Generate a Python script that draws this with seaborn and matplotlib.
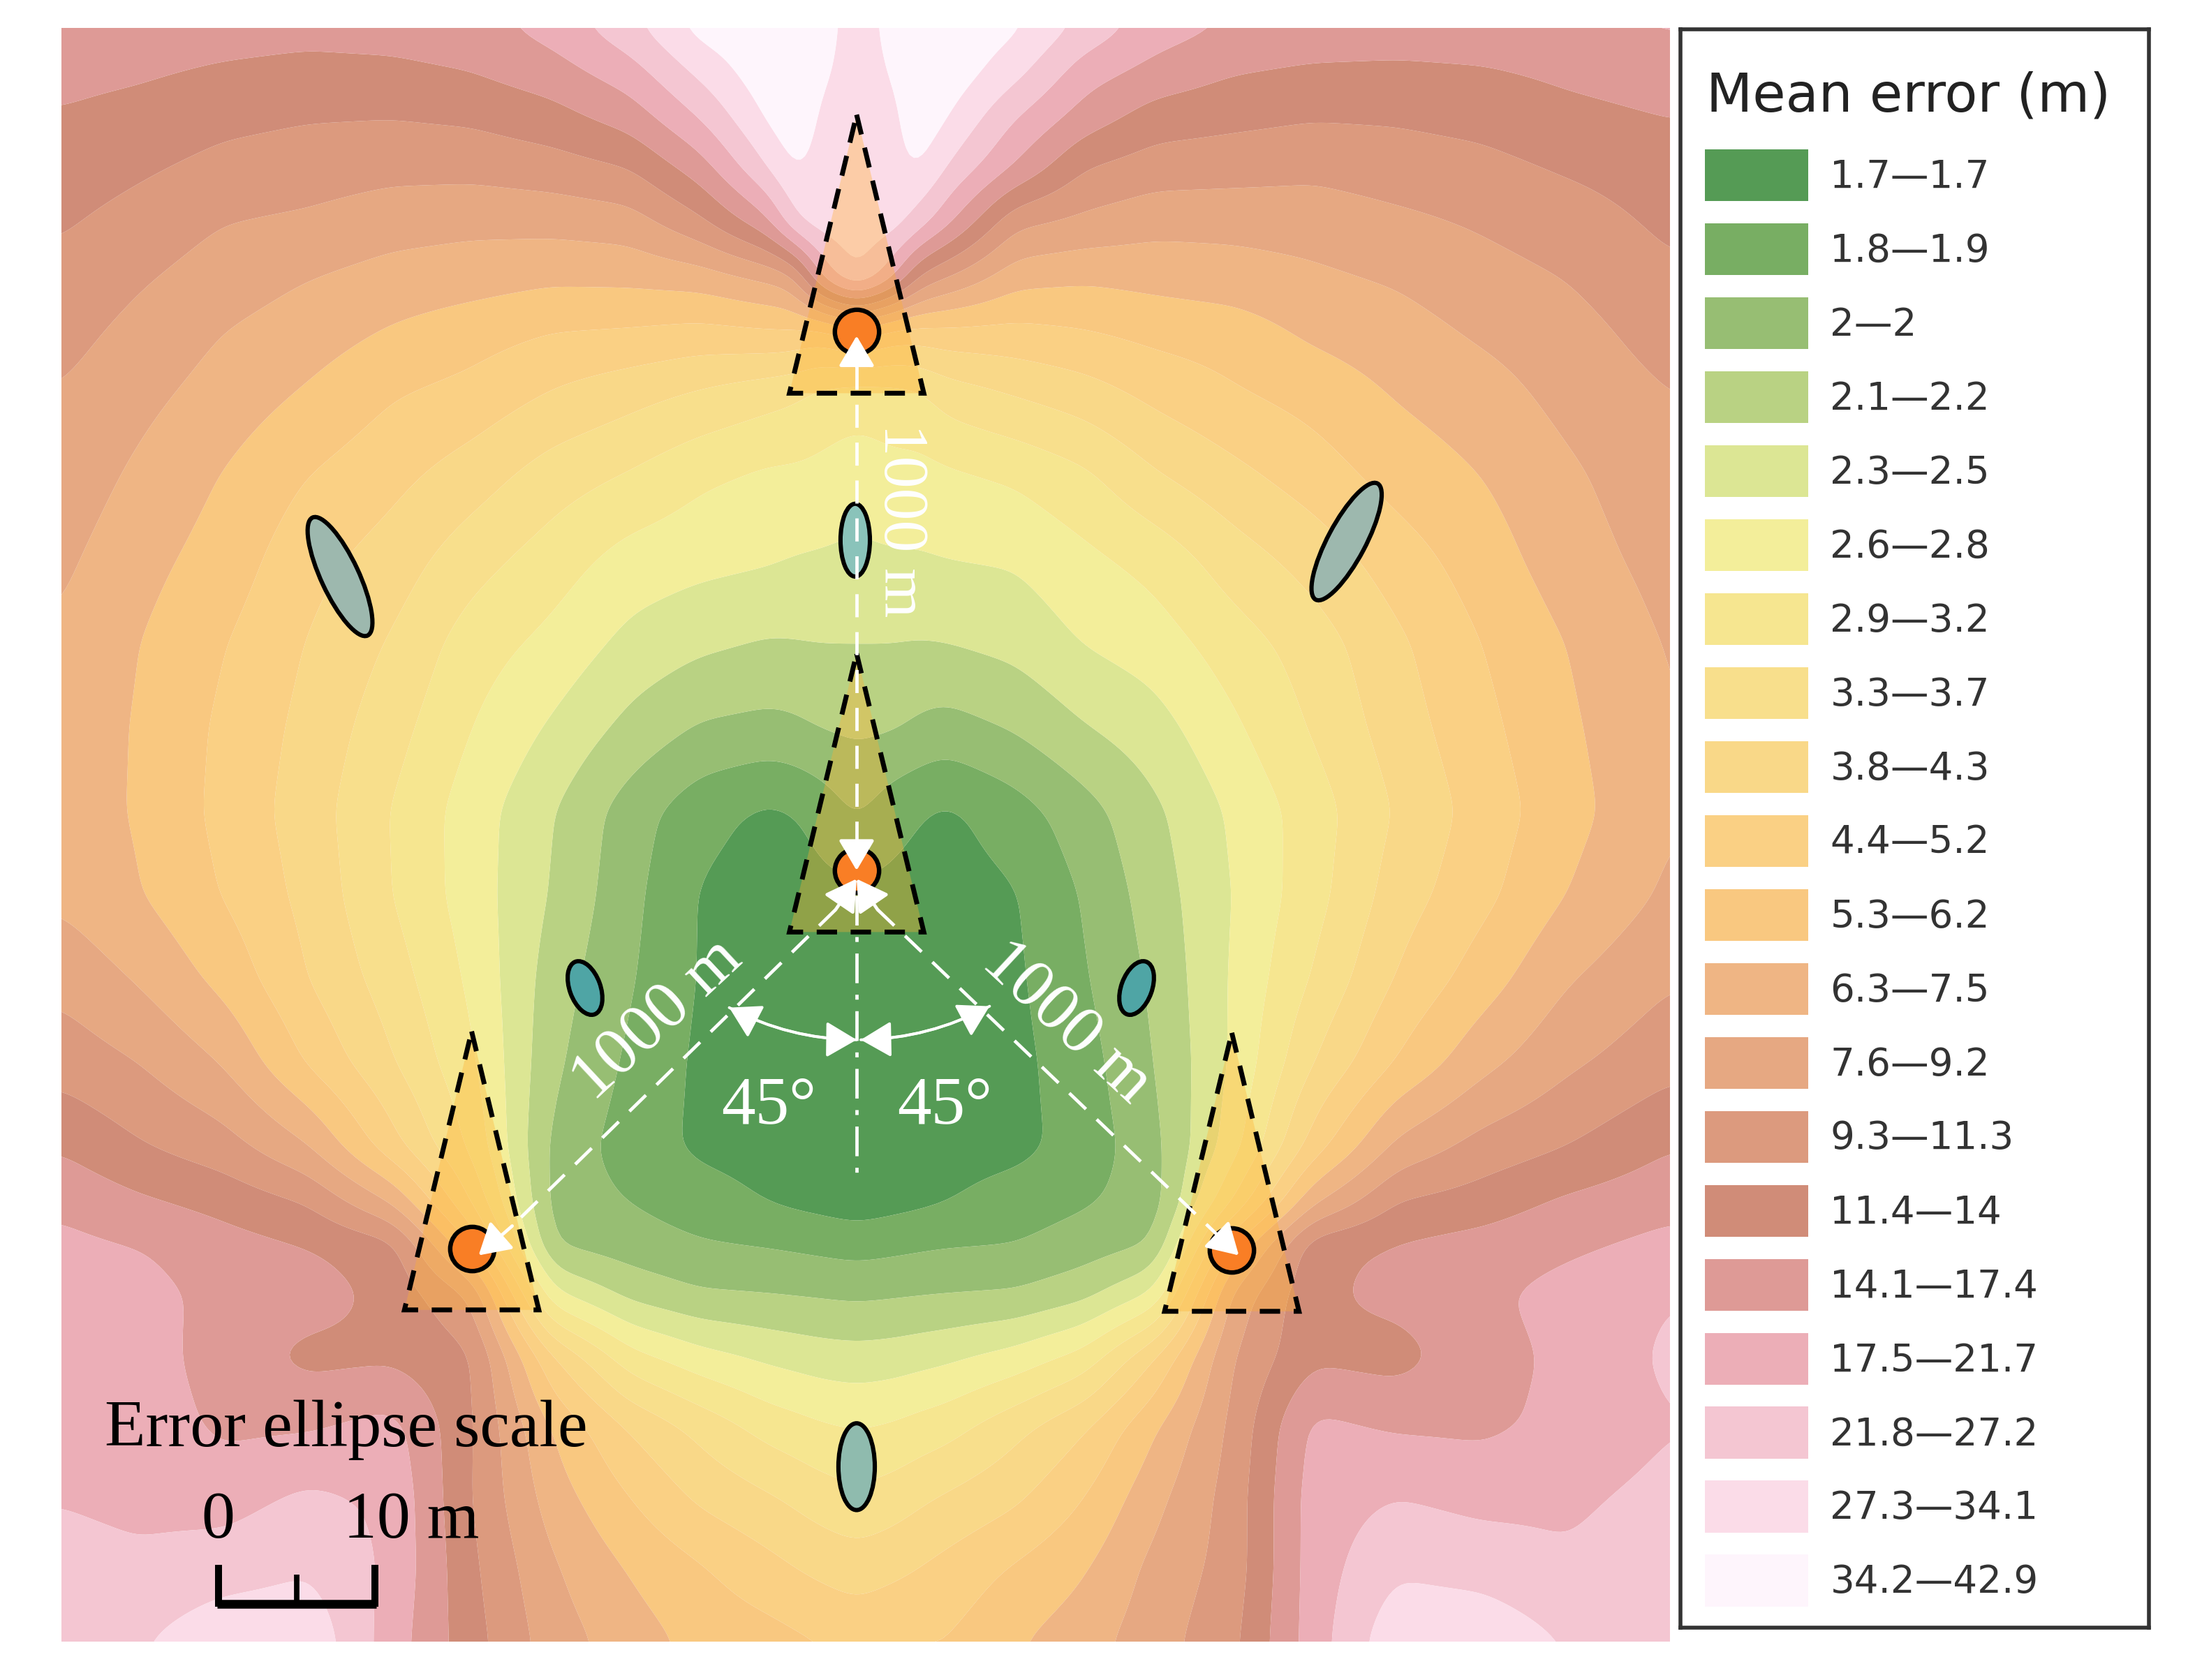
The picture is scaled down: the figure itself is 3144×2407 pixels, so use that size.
"""
plot.py - Mean error map of the four-station layout, with error ellipses.
"""

import numpy as np
import matplotlib
matplotlib.use("Agg")
import matplotlib.pyplot as plt
from matplotlib.patches import Ellipse, Patch, Polygon
import seaborn as sns

# ── Data ──────────────────────────────────────────────────────────────────────

BAND_LABELS = [
    "1.7—1.7", "1.8—1.9", "2—2", "2.1—2.2", "2.3—2.5", "2.6—2.8", "2.9—3.2",
    "3.3—3.7", "3.8—4.3", "4.4—5.2", "5.3—6.2", "6.3—7.5", "7.6—9.2",
    "9.3—11.3", "11.4—14", "14.1—17.4", "17.5—21.7", "21.8—27.2",
    "27.3—34.1", "34.2—42.9",
]
BAND_COLORS = [
    "#559B55", "#78AE63", "#97BE73", "#B9D283", "#DCE694", "#F3EE9A",
    "#F6E690", "#F8DF8C", "#F9D888", "#FAD084", "#F9C880", "#EFB584",
    "#E6A882", "#DC9A7E", "#D08C78", "#DE9A96", "#ECAEB7", "#F4C6D2",
    "#FBDCE8", "#FEF5FC",
]

# sample positions of the error field
grid_x = [44, 100, 160, 220, 280, 337, 395, 450, 500, 550, 568, 585, 612,
          640, 656, 675, 725, 775, 825, 880, 938, 998, 1058, 1118, 1193]
grid_y = [20, 50, 85, 120, 160, 200, 237, 280, 340, 400, 460, 520, 580,
          640, 700, 760, 820, 860, 890, 925, 970, 1020, 1070, 1120, 1173]

# error, one list per column, as position on the legend bands
col_a = [15.2, 14.8, 14.4, 14.05, 13.6, 13.2, 12.85, 12.45, 12.1, 11.7, 11.35, 11.15, 11.0,
         11.3, 12.2, 13.1, 14.4, 15.3, 15.75, 16.0, 16.1, 16.2, 16.45, 16.8, 17.1]
col_b = [15.0, 14.65, 14.15, 13.65, 13.1, 12.6, 12.2, 11.8, 11.3, 10.85, 10.5, 10.4, 10.4,
         10.55, 11.4, 12.5, 13.6, 14.7, 15.5, 15.85, 16.0, 16.1, 16.3, 16.65, 17.4]
col_c = [14.9, 14.4, 13.75, 13.2, 12.5, 12.0, 11.5, 11.1, 10.45, 10.05, 9.55, 9.3, 9.2,
         9.45, 10.2, 11.45, 12.95, 14.2, 14.9, 15.2, 15.0, 15.3, 16.1, 17.0, 18.3]
col_d = [14.8, 14.25, 13.55, 13.0, 12.3, 11.5, 11.0, 10.4, 9.5, 8.85, 8.45, 8.2, 8.0,
         8.2, 8.5, 9.4, 11.6, 13.5, 14.5, 15.0, 14.2, 15.4, 16.7, 17.4, 18.3]
col_e = [14.9, 14.3, 13.5, 12.8, 11.9, 11.1, 10.4, 9.6, 8.8, 8.05, 7.4, 6.9, 6.45,
         6.5, 7.0, 7.6, 8.9, 11.5, 13.9, 14.2, 14.3, 15.9, 16.3, 16.3, 16.0]
col_f = [15.1, 14.55, 13.65, 12.8, 11.75, 10.9, 9.95, 9.2, 8.0, 6.9, 6.0, 5.5, 5.0,
         5.0, 5.3, 5.7, 6.3, 7.5, 9.5, 12.5, 13.7, 13.6, 13.5, 13.7, 13.9]
col_g = [15.9, 15.1, 14.1, 13.05, 11.8, 10.65, 9.5, 8.45, 7.0, 6.0, 5.2, 4.35, 3.55,
         3.4, 3.0, 2.7, 2.2, 2.1, 2.4, 4.7, 8.6, 10.4, 11.0, 11.6, 12.0]
col_h = [17.2, 16.1, 14.9, 13.5, 12.0, 10.7, 9.4, 7.9, 6.4, 5.1, 4.2, 3.2, 2.0,
         1.8, 1.6, 1.3, 1.0, 1.5, 2.0, 3.2, 5.9, 8.4, 9.5, 10.4, 11.0]
col_i = [18.9, 17.8, 16.5, 15.0, 13.2, 10.9, 9.2, 7.4, 5.7, 4.8, 3.7, 2.4, 0.85,
         0.4, 0.4, 0.3, 0.3, 1.0, 1.6, 2.6, 4.9, 7.2, 8.3, 9.6, 10.2]
col_j = [19.3, 19.3, 18.7, 17.6, 15.2, 11.6, 9.4, 6.9, 5.3, 4.6, 3.4, 2.2, 0.3,
         0.0, 0.0, 0.0, 0.1, 0.45, 1.45, 2.5, 4.3, 6.1, 7.6, 8.8, 9.9]
col_j2 = [19.3, 19.3, 19.3, 18.8, 17.5, 11.9, 9.4, 6.7, 5.3, 4.45, 3.45, 2.3, 0.5,
          0.0, 0.0, 0.0, 0.05, 0.3, 1.35, 2.45, 4.15, 5.9, 7.3, 8.5, 9.7]
col_k = [18.9, 18.7, 18.3, 18.1, 18.0, 15.5, 9.0, 6.3, 5.2, 4.4, 3.5, 2.55, 0.8,
         0.2, 0.0, 0.0, 0.0, 0.2, 1.25, 2.4, 4.0, 5.65, 7.0, 8.25, 9.55]
col_l = [18.1, 18.1, 18.0, 18.0, 18.0, 17.8, 10.0, 6.0, 4.9, 4.3, 3.5, 2.7, 1.7,
         0.2, 0.0, 0.0, 0.0, 0.0, 1.1, 2.3, 3.9, 5.45, 6.7, 7.95, 9.25]
col_m = [18.8, 18.6, 18.2, 18.1, 18.0, 15.5, 9.0, 6.2, 5.2, 4.4, 3.5, 2.6, 0.8,
         0.2, 0.0, 0.0, 0.0, 0.2, 1.25, 2.4, 4.0, 5.65, 7.0, 8.25, 9.55]
col_m2 = [19.3, 19.2, 19.3, 18.8, 17.0, 13.1, 9.1, 6.3, 5.1, 4.4, 3.45, 2.3, 0.6,
          0.1, 0.0, 0.0, 0.05, 0.3, 1.35, 2.45, 4.15, 5.9, 7.3, 8.5, 9.6]
col_n = [19.3, 19.3, 18.6, 17.5, 15.8, 12.4, 9.2, 7.0, 5.3, 4.5, 3.5, 2.1, 0.3,
         0.0, 0.0, 0.0, 0.1, 0.45, 1.45, 2.5, 4.3, 6.1, 7.6, 8.8, 9.5]
col_o = [18.7, 17.9, 16.5, 15.4, 12.65, 10.8, 9.2, 7.6, 5.65, 4.6, 3.8, 2.6, 1.05,
         0.4, 0.3, 0.2, 0.2, 1.0, 1.5, 2.6, 4.9, 7.2, 8.3, 9.6, 10.4]
col_p = [17.2, 16.0, 15.0, 13.5, 12.2, 10.6, 9.45, 8.1, 6.3, 5.25, 4.55, 3.45, 2.1,
         1.6, 1.4, 1.1, 0.9, 1.4, 2.0, 3.2, 5.9, 8.4, 9.5, 10.4, 11.1]
col_q = [16.0, 15.2, 14.0, 13.0, 11.8, 10.8, 9.8, 8.8, 7.4, 5.85, 5.0, 4.1, 3.3,
         3.0, 2.7, 2.5, 2.2, 2.0, 2.5, 4.6, 8.5, 10.4, 11.2, 11.8, 12.1]
col_r = [15.4, 14.6, 13.75, 12.9, 11.8, 11.0, 10.0, 9.4, 8.2, 7.0, 6.0, 5.3, 4.65,
         4.5, 4.6, 4.6, 5.0, 6.5, 9.5, 11.8, 12.5, 12.7, 12.9, 12.9, 13.2]
col_s = [15.2, 14.35, 13.55, 12.75, 11.9, 11.3, 10.7, 9.9, 9.0, 7.9, 7.0, 6.6, 6.0,
         6.1, 6.6, 7.5, 9.0, 11.4, 14.2, 14.3, 14.3, 15.8, 16.0, 16.0, 16.0]
col_t = [15.1, 14.3, 13.6, 13.0, 12.25, 11.6, 11.1, 10.6, 9.9, 9.0, 8.3, 8.0, 7.6,
         8.0, 8.6, 9.6, 11.8, 13.6, 14.6, 14.8, 14.1, 15.4, 16.5, 17.35, 18.3]
col_u = [15.2, 14.4, 13.8, 13.2, 12.6, 12.1, 11.65, 11.1, 10.5, 10.0, 9.5, 9.2, 8.9,
         9.2, 10.0, 11.2, 12.9, 14.0, 14.9, 15.3, 15.1, 15.3, 16.2, 17.1, 18.3]
col_v = [15.3, 14.7, 14.2, 13.6, 13.0, 12.5, 12.1, 11.8, 11.3, 11.0, 10.5, 10.3, 10.1,
         10.5, 11.4, 12.3, 13.5, 14.7, 15.3, 15.85, 15.7, 15.75, 16.3, 16.65, 17.45]
col_w = [15.6, 15.0, 14.5, 14.0, 13.7, 13.3, 12.95, 12.5, 12.2, 11.9, 11.6, 11.45, 11.4,
         11.7, 12.4, 13.2, 14.45, 15.2, 15.8, 16.45, 16.7, 16.45, 16.8, 17.0, 17.2]

field_cols = [col_a, col_b, col_c, col_d, col_e, col_f, col_g, col_h, col_i,
              col_j, col_j2, col_k, col_l, col_m, col_m2, col_n, col_o, col_p,
              col_q, col_r, col_s, col_t, col_u, col_v, col_w]

# stations and error ellipses: x, y, then width, height, tilt, colour
station_x = [612, 612, 337, 880]
station_y = [237, 622, 892, 893]
ellipse_x = [243, 611, 962, 418, 812, 612]
ellipse_y = [412, 386, 387, 706, 706, 1048]
ellipse_w = [27, 21, 27, 22, 22, 26]
ellipse_h = [93, 52, 94, 40, 40, 62]
ellipse_tilt = [-25, 0, 28, -20, 20, 0]
ellipse_color = ["#9DB8AE", "#8AC3BA", "#9DB8AE", "#4FA5A5", "#4FA5A5", "#8FBBAE"]


def soften(x, y, z, step=3.0, sigma=9.0):
    """Resample the read-off field finely and round the kinks of the coarse grid."""
    fx = np.arange(x[0], x[-1] + step, step)
    fy = np.arange(y[0], y[-1] + step, step)
    z = np.array([np.interp(fx, x, row) for row in z])
    z = np.array([np.interp(fy, y, col) for col in z.T]).T
    half = int(3 * sigma / step)
    kernel = np.exp(-0.5 * (np.arange(-half, half + 1) * step / sigma) ** 2)
    kernel /= kernel.sum()
    pad = np.pad(z, half, mode="edge")
    pad = np.apply_along_axis(np.convolve, 0, pad, kernel, mode="same")
    pad = np.apply_along_axis(np.convolve, 1, pad, kernel, mode="same")
    return fx, fy, pad[half:-half, half:-half]


# ── Figure ────────────────────────────────────────────────────────────────────

W, H = 3144, 2407
SERIF = "Liberation Serif"

sns.set_theme(style="white")
plt.rcParams["font.family"] = ["DejaVu Sans"]

fig = plt.figure(figsize=(W / 200, H / 200), facecolor="white")
ax = fig.add_axes([88 / W, 1 - 2352 / H, 2304 / W, 2312 / H])
ax.set_xlim(44, 1193)
ax.set_ylim(1173, 20)
ax.axis("off")

# ── Error field ───────────────────────────────────────────────────────────────

palette = sns.color_palette(BAND_COLORS)
field = np.array(field_cols).T
levels = np.arange(-0.5, 20.0, 1.0)
fine_x, fine_y, fine_field = soften(grid_x, grid_y, field)
ax.contourf(fine_x, fine_y, fine_field, levels=levels, colors=palette, antialiased=True)

# ── Station sectors ───────────────────────────────────────────────────────────

for sx, sy in zip(station_x, station_y):
    corners = [(sx, sy - 155), (sx + 48, sy + 44), (sx - 48, sy + 44)]
    ax.add_patch(Polygon(corners, closed=True, facecolor="#FFB030", alpha=0.35,
                         edgecolor="none", zorder=3))
    ax.add_patch(Polygon(corners, closed=True, fill=False, edgecolor="black",
                         lw=2.5, linestyle=(0, (4.2, 2.8)), zorder=4))

ax.scatter(station_x, station_y, s=520, c="#F97E25", edgecolors="black",
           linewidths=2.3, zorder=5)

for ex, ey, ew, eh, tilt, color in zip(ellipse_x, ellipse_y, ellipse_w,
                                       ellipse_h, ellipse_tilt, ellipse_color):
    ax.add_patch(Ellipse((ex, ey), ew, eh, angle=tilt, facecolor=color,
                         edgecolor="black", lw=2.2, zorder=5))


# ── Dimension lines ───────────────────────────────────────────────────────────

def dim_line(x0, y0, x1, y1, style=(0, (7, 4.5))):
    ax.plot([x0, x1], [y0, y1], color="white", lw=1.7, linestyle=style, zorder=6)


def arrow_head(tip, tail, rad=0.0, lw=1.7):
    ax.annotate("", xy=tip, xytext=tail, zorder=7, arrowprops=dict(
        arrowstyle="-|>,head_length=0.85,head_width=0.5", mutation_scale=16,
        color="white", lw=lw, shrinkA=0, shrinkB=0,
        connectionstyle=f"arc3,rad={rad}"))


dim_line(612, 262, 612, 603)
dim_line(612, 640, 612, 840, style=(0, (9, 3.5, 1.5, 3.5)))
dim_line(597, 650, 366, 876)
dim_line(627, 650, 863, 876)

arrow_head((612, 240), (612, 262))
arrow_head((612, 622), (612, 603))
arrow_head((612, 628), (597, 650))
arrow_head((612, 628), (627, 650))
arrow_head((342, 897), (366, 876))
arrow_head((885, 897), (863, 876))

arrow_head((612, 743), (521, 720), rad=0.12, lw=1.4)
arrow_head((521, 720), (612, 743), rad=-0.12, lw=1.4)
arrow_head((615, 743), (707, 719), rad=-0.12, lw=1.4)
arrow_head((707, 719), (615, 743), rad=0.12, lw=1.4)

white_text = dict(color="white", family=SERIF, ha="center", va="center", zorder=8)
ax.text(643, 372, "1000 m", fontsize=33, rotation=-90, **white_text)
ax.text(470, 729, "1000 m", fontsize=35, rotation=43, **white_text)
ax.text(762, 731, "1000 m", fontsize=35, rotation=-43, **white_text)
ax.text(549, 791, "45°", fontsize=35, **white_text)
ax.text(675, 791, "45°", fontsize=35, **white_text)

# ── Ellipse scale ─────────────────────────────────────────────────────────────

black_text = dict(color="black", family=SERIF, va="center", zorder=8)
ax.text(75, 1022, "Error ellipse scale", fontsize=34.5, ha="left", **black_text)
ax.text(156, 1087, "0", fontsize=34.5, ha="center", **black_text)
ax.text(294, 1087, "10 m", fontsize=34.5, ha="center", **black_text)

ax.plot([155, 269], [1146, 1146], color="black", lw=4.5, solid_capstyle="butt", zorder=8)
ax.plot([156, 156], [1118, 1148], color="black", lw=3.6, solid_capstyle="butt", zorder=8)
ax.plot([212, 212], [1125, 1148], color="black", lw=2.8, solid_capstyle="butt", zorder=8)
ax.plot([268, 268], [1118, 1148], color="black", lw=3.6, solid_capstyle="butt", zorder=8)

# ── Legend ────────────────────────────────────────────────────────────────────

left, top, right, bottom = 2407, 42, 3078, 2332
leg_ax = fig.add_axes([left / W, 1 - bottom / H, (right - left) / W, (bottom - top) / H])
leg_ax.set_xticks([])
leg_ax.set_yticks([])
for spine in leg_ax.spines.values():
    spine.set_color("#333333")
    spine.set_linewidth(2.0)

leg_ax.text(37 / (right - left), 1 - 96 / (bottom - top), "Mean error (m)",
            transform=leg_ax.transAxes, fontsize=27.7, color="#222222",
            ha="left", va="center")

handles = [Patch(facecolor=c, edgecolor="none") for c in palette]
leg_ax.legend(
    handles, BAND_LABELS,
    loc="upper left",
    bbox_to_anchor=(35 / (right - left), 1 - 172 / (bottom - top)),
    frameon=False,
    borderpad=0,
    borderaxespad=0,
    fontsize=19.7,
    labelcolor="#333333",
    handlelength=2.7,
    handleheight=1.71,
    handletextpad=0.58,
    labelspacing=0.58,
)

fig.savefig("out.png", dpi=200)
plt.close(fig)
